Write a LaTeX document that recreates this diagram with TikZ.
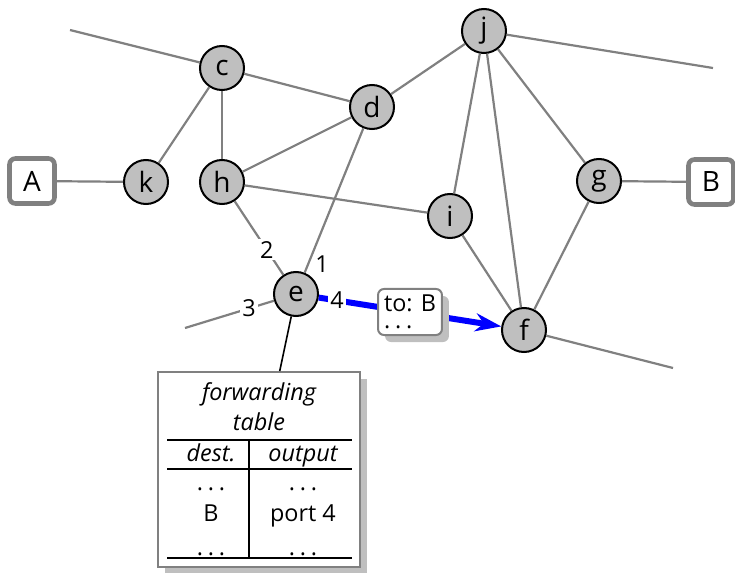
\documentclass[tikz,border=0pt]{standalone}
\usepackage{fontspec}
\setmainfont{Open Sans}
\usetikzlibrary{arrows.meta,shadows}
\definecolor{packet}{HTML}{0000FF}
\newcommand{\etc}{.\kern2.4pt.\kern2.4pt.}

\begin{document}
\begin{tikzpicture}[x=0.5pt,y=-0.5pt,font=\fontsize{11.7}{14}\selectfont,
  router/.style={circle,draw,line width=1pt,fill=gray!50,minimum size=22pt,inner sep=0pt,font=\fontsize{14}{16}\selectfont},
  host/.style={rectangle,rounded corners=3pt,draw=gray,line width=2.3pt,fill=white,minimum size=22.5pt,inner sep=0pt,font=\fontsize{14}{16}\selectfont},
  link/.style={gray,line width=1.1pt},
  port/.style={fill=white,text=black,inner sep=1pt},
  shade/.style={drop shadow={shadow xshift=3.5pt,shadow yshift=-3.5pt,fill=black!25,opacity=1}},
  msg/.style={rectangle,rounded corners=3pt,draw=gray,line width=1pt,fill=white,text=black,align=left,inner sep=3pt,font=\fontsize{11.7}{8.5}\selectfont,shade},
  fwtable/.style={rectangle,draw=gray,line width=1pt,fill=white,minimum width=101pt,minimum height=97.5pt,shade},
  tabrule/.style={black,line width=1.1pt},
  cell/.style={anchor=base,inner sep=0pt}]
  \useasboundingbox (0,0) rectangle (735,573);
  % Routers
  \foreach \n/\x/\y in {c/222/68, d/372/107, j/484/31, k/146/182, h/222/182,
                        i/450/216, g/599/181, e/296/294, f/524/330}
    \node[router] (\n) at (\x,\y) {\n};
  % Hosts
  \node[host] (A) at (32,181) {A};
  \node[host] (B) at (711,182) {B};
  % Free ends
  \coordinate (cout) at (70,30);
  \coordinate (jout) at (713,68);
  \coordinate (fout) at (673,368);
  \coordinate (eout) at (185,328);
  % Links
  \foreach \a/\b in {c/cout, c/k, c/h, c/d, d/h, d/j, j/i, j/f, j/g, j/jout,
                     h/i, k/A, g/B, g/f, i/f, f/fout}
    \draw[link] (\a) -- (\b);
  \draw[link] (h) -- (e) node[port,pos=0.66] {2};
  \draw[link] (e) -- (d) node[pos=0.06,right=2pt,text=black,inner sep=1pt] {1};
  \draw[link] (e) -- (eout) node[port,pos=0.28] {3};
  % Packet on its way
  \draw[packet,line width=3pt,-{Stealth[length=13pt,width=9pt]}] (e) -- (f)
    node[port,pos=0.1] {4}
    node[msg,midway] (pkt) {to: B\\\etc};
  % Forwarding table
  \node[fwtable] (table) at (259,469.5) {};
  \draw[line width=0.8pt] (e) -- (table);
  \draw[tabrule] (167,440) -- (352,440);
  \draw[tabrule] (167,469) -- (352,469);
  \draw[tabrule] (167,558) -- (352,558);
  \draw[tabrule] (249,440) -- (249,558);
  \node[cell] (ttl1) at (259,400) {\itshape forwarding};
  \node[cell] (ttl2) at (259,430) {\itshape table};
  \node[cell] (hdest) at (211,461) {\itshape dest.};
  \node[cell] (hout) at (303,461) {\itshape output};
  \node[cell] (d1) at (211,490) {\etc};
  \node[cell] (o1) at (303,490) {\etc};
  \node[cell] (d2) at (211,521) {B};
  \node[cell] (o2) at (303,521) {port 4};
  \node[cell] (d3) at (211,555) {\etc};
  \node[cell] (o3) at (303,555) {\etc};
\end{tikzpicture}
\end{document}
